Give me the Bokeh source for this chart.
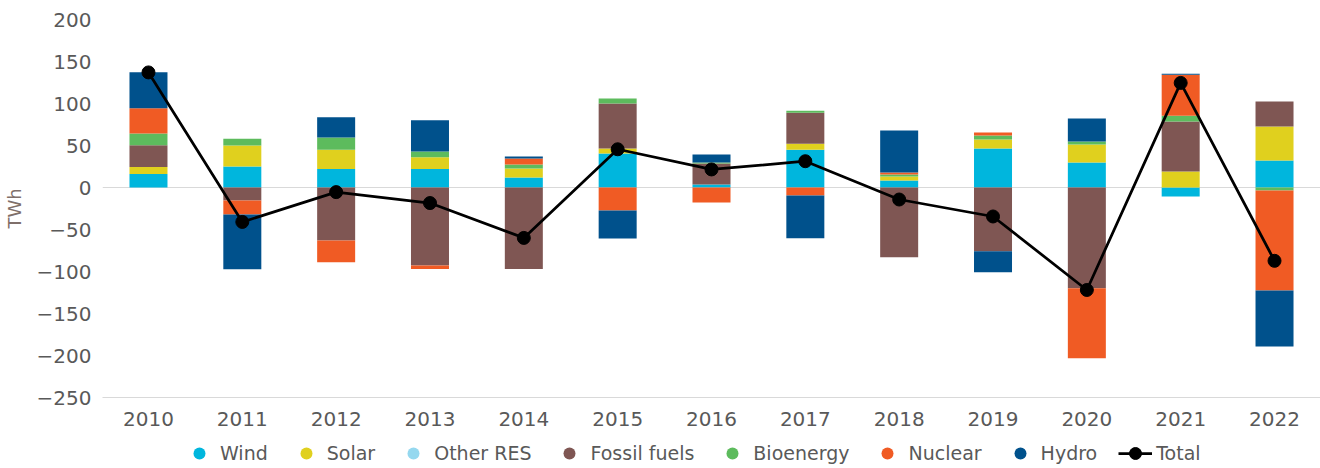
import numpy as np
from bokeh.plotting import figure
from bokeh.layouts import column
from bokeh.models import (Range1d, FixedTicker, Span, Legend, LegendItem, ColumnDataSource)
from bokeh.embed import file_html
from bokeh.resources import INLINE

years = ["2010", "2011", "2012", "2013", "2014", "2015", "2016",
         "2017", "2018", "2019", "2020", "2021", "2022"]
wind = [16, 25, 22, 22, 12, 40.5, 3.6, 45, 8.3, 46.4, 29.8, -10.7, 32]
solar = [8.3, 25, 23, 14, 10.6, 6, 0, 7, 4.8, 10.7, 21.4, 19, 40.5]
other_res = [0, 0, 0, 0, 0, 0, 0, 0, 0, 0, 0, 0, 0]
fossil = [26, -15.5, -63, -93, -97, 53.6, 25, 37, -83, -76, -120, 59.5, 29.8]
bioenergy = [14, 8, 14.5, 7, 4.8, 6, 1.2, 2.4, 2.4, 4.8, 3.6, 7, -3.6]
nuclear = [30, -16.7, -26, -4, 7, -27.4, -18, -9.5, 2.4, 3.6, -83.3, 48.8, -119]
hydro = [43, -65, 24, 37, 2.5, -33.3, 9.5, -51, 50, -25, 27.4, 1.2, -66.7]
total = [137, -41, -5.5, -18.5, -60, 45.5, 21.5, 31.3, -14.3, -34.5, -122, 124.5, -87.3]

series_names = ["Wind", "Solar", "Other RES", "Fossil fuels", "Bioenergy", "Nuclear", "Hydro"]
series_vals = [wind, solar, other_res, fossil, bioenergy, nuclear, hydro]
colors = ["#00b6dd", "#e0d01e", "#95d8ef", "#7f5653", "#5dbb5d", "#f05b24", "#00518c"]

FONT = "DejaVu Sans"
TXT = "#595959"

x = np.arange(len(years))

# ---------------- main chart ----------------
p = figure(width=1320, height=437, output_backend="svg", toolbar_location=None,
           x_range=Range1d(-0.49, 12.49), y_range=Range1d(-250, 200))
p.min_border_left = 102
p.min_border_right = 0
p.min_border_top = 19
p.min_border_bottom = 40
p.outline_line_color = None
p.xgrid.visible = False
p.ygrid.visible = False
p.background_fill_color = "white"
p.border_fill_color = "white"

p.add_layout(Span(location=0, dimension="width", line_color="#d9d9d9",
                  line_width=1, level="underlay"))

pos_base = np.zeros(len(years))
neg_base = np.zeros(len(years))
for name, vals, col in zip(series_names, series_vals, colors):
    v = np.array(vals, dtype=float)
    bottom = np.where(v >= 0, pos_base, neg_base)
    top = bottom + v
    pos_base = np.where(v >= 0, pos_base + v, pos_base)
    neg_base = np.where(v < 0, neg_base + v, neg_base)
    src = ColumnDataSource(dict(x=x, top=top, bottom=bottom))
    p.vbar(x="x", top="top", bottom="bottom", width=0.405, source=src,
           fill_color=col, line_color=None)

tsrc = ColumnDataSource(dict(x=x, y=total))
p.line("x", "y", source=tsrc, line_color="black", line_width=2.75)
p.scatter("x", "y", source=tsrc, marker="circle", size=13,
          fill_color="black", line_color="black")

# x axis
p.xaxis.ticker = FixedTicker(ticks=list(range(len(years))))
p.xaxis.major_label_overrides = {i: y for i, y in enumerate(years)}
p.xaxis.axis_line_color = "#d9d9d9"
p.xaxis.major_tick_line_color = None
p.xaxis.major_tick_out = 0
p.xaxis.major_tick_in = 0
p.xaxis.minor_tick_line_color = None
p.xaxis.minor_tick_out = 0
p.xaxis.major_label_text_font = FONT
p.xaxis.major_label_text_font_size = "20px"
p.xaxis.major_label_text_color = TXT
p.xaxis.major_label_standoff = 14

# y axis
p.yaxis.ticker = FixedTicker(ticks=list(range(-250, 201, 50)))
p.yaxis.axis_line_color = None
p.yaxis.major_tick_line_color = None
p.yaxis.major_tick_out = 0
p.yaxis.major_tick_in = 0
p.yaxis.minor_tick_line_color = None
p.yaxis.minor_tick_out = 0
p.yaxis.major_label_text_font = FONT
p.yaxis.major_label_text_font_size = "20px"
p.yaxis.major_label_text_color = TXT
p.yaxis.major_label_standoff = 11
p.yaxis.axis_label = "TWh"
p.yaxis.axis_label_text_font = FONT
p.yaxis.axis_label_text_font_size = "18px"
p.yaxis.axis_label_text_font_style = "normal"
p.yaxis.axis_label_text_color = "#7f6f6a"
p.yaxis.axis_label_standoff = 9

# ---------------- legend strip ----------------
lg = figure(width=1320, height=31, output_backend="svg", toolbar_location=None,
            x_axis_type=None, y_axis_type=None,
            x_range=Range1d(1000, 1001), y_range=Range1d(1000, 1001))
lg.min_border = 0
lg.min_border_left = 0
lg.min_border_right = 0
lg.min_border_top = 0
lg.min_border_bottom = 0
lg.outline_line_color = None
lg.xgrid.visible = False
lg.ygrid.visible = False

items = []
for name, vals, col in zip(series_names, series_vals, colors):
    r = lg.scatter(x=x, y=vals, marker="circle", size=12, fill_color=col, line_color=None)
    items.append(LegendItem(label=name, renderers=[r]))
rl = lg.line(x=x, y=total, line_color="black", line_width=2.75)
rm = lg.scatter(x=x, y=total, marker="circle", size=13, fill_color="black", line_color="black")
items.append(LegendItem(label="Total", renderers=[rl, rm]))

legend = Legend(items=items, orientation="horizontal", location=(80, 0),
                glyph_width=34, glyph_height=30, label_height=30,
                label_standoff=4, spacing=21, padding=0, margin=0,
                border_line_color=None, background_fill_alpha=0,
                label_text_font=FONT, label_text_font_size="19px",
                label_text_color=TXT)
lg.add_layout(legend, "center")

layout = column(p, lg, spacing=0)
open("out.html", "w").write(file_html(layout, INLINE))
